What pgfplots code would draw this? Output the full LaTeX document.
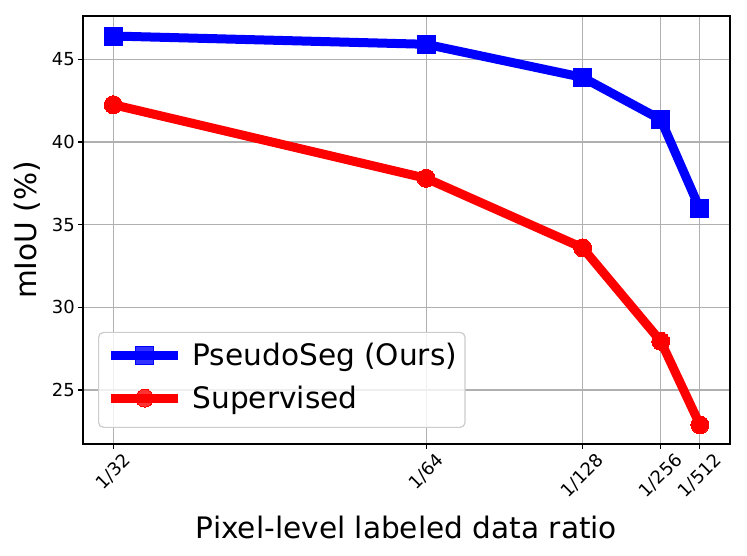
\documentclass[border=0pt]{standalone}
\usepackage{pgfplots}
\pgfplotsset{compat=1.18}
\usepackage{fontspec}
\setmainfont{DejaVu Sans}
\usepackage{graphicx}
\begin{document}
\begin{tikzpicture}
\path[use as bounding box] (-83bp,-112bp) rectangle (664bp,444bp);
\begin{axis}[
 at={(0,0)}, anchor=south west,
 scale only axis, width=647bp, height=428bp,
 xmin=-0.775, xmax=15.77, ymin=21.74, ymax=47.61,
 xtick={0,8,12,14,15},
 xticklabels={\rotatebox{45}{1/32},\rotatebox{45}{1/64},\rotatebox{45}{1/128},\rotatebox{45}{1/256},\rotatebox{45}{1/512}},
 ytick={25,30,35,40,45},
 /pgf/number format/assume math mode=true,
 grid=major,
 major grid style={color=black!31, line width=1.2bp},
 axis line style={line width=1.2bp},
 tick align=outside, major tick length=5bp, tick pos=left,
 major tick style={line width=1.2bp, black},
 ticklabel style={font=\fontsize{18}{18}\selectfont},
 xticklabel style={anchor=north, inner sep=0pt, yshift=-3bp},
 yticklabel style={inner sep=0pt, xshift=-3bp},
 xlabel={Pixel-level labeled data ratio},
 ylabel={mIoU (\%)},
 label style={font=\fontsize{29.7}{29.7}\selectfont},
 xlabel style={at={(axis description cs:0.5,-0.194)}, anchor=center},
 ylabel style={at={(axis description cs:-0.0866,0.5)}, anchor=center},
 legend style={at={(axis description cs:0.0232,0.0374)}, anchor=south west,
   draw=black!20, line width=1.2bp, fill=white, fill opacity=0.8, text opacity=1,
   rounded corners=5bp, font=\fontsize{29.7}{29.7}\selectfont,
   inner xsep=8bp, inner ysep=4.5bp, column sep=10bp,
   nodes={inner sep=0pt}, cells={anchor=base west}},
 legend image code/.code={%
   \path[draw=none, fill=none] (0bp,-14bp) -- (0bp,29bp);
   \draw[mark repeat=2,mark phase=2,#1] plot coordinates {(0bp,10.8bp) (33.5bp,10.8bp) (67bp,10.8bp)};},
]
\addplot[color=blue, line width=9bp, mark=square*, mark size=9bp, mark options={line width=0bp}]
 coordinates {(0,46.4) (8,45.9) (12,43.9) (14,41.35) (15,35.95)};
\addlegendentry{PseudoSeg (Ours)}
\addplot[color=red, line width=9bp, mark=*, mark size=9bp, mark options={line width=0bp}]
 coordinates {(0,42.25) (8,37.8) (12,33.6) (14,27.95) (15,22.9)};
\addlegendentry{Supervised}
\end{axis}
\end{tikzpicture}
\end{document}
